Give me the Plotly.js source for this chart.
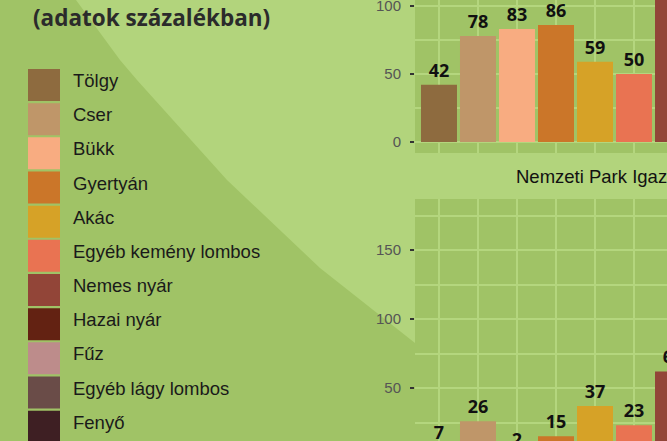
<!DOCTYPE html>
<html>
<head>
<meta charset="utf-8">
<script src="https://cdn.plot.ly/plotly-3.0.1.min.js"></script>
<style>
html,body{margin:0;padding:0;overflow:hidden;background:#a0c366;}
#chart{width:667px;height:441px;}
</style>
</head>
<body>
<div id="chart"></div>
<script>
// ---- data ----
var categories = ["Tölgy","Cser","Bükk","Gyertyán","Akác","Egyéb kemény lombos","Nemes nyár","Hazai nyár","Fűz","Egyéb lágy lombos","Fenyő"];
var topValues = [42, 78, 83, 86, 59, 50, 120, null, null, null, null];
var bottomValues = [7, 26, 2, 15, 37, 23, 62, null, null, null, null];
var yTickVals = [0, 50, 100, 150];
var titleText = "(adatok százalékban)";
var bottomTitle = "Nemzeti Park Igazgatóságok";

// ---- styles ----
var colors = ["#8e6b3f","#bf9669","#f8ac81","#cb7629","#d6a227","#e97352","#924538","#632212","#bd8c8b","#6a4c48","#3e1f23"];
var W = 667, H = 441;
var darkGreen = "#a0c366", lightGreen = "#b2d47c", gridGreen = "#b4d67e";
var sansFont = "Liberation Sans, Arial, sans-serif";
var boldFont = "Open Sans, Noto Sans, sans-serif";

function px(x){return x / W;}
function py(y){return 1 - y / H;}

var barTextFont = {family: boldFont, size: 18, color: "#111111", weight: "bold"};

var traces = [
  {type: "bar", x: categories, y: topValues, xaxis: "x", yaxis: "y",
   marker: {color: colors, line: {width: 0}}, texttemplate: "%{y}", textposition: "outside",
   textfont: barTextFont, hoverinfo: "skip", showlegend: false},
  {type: "bar", x: categories, y: bottomValues, xaxis: "x2", yaxis: "y2",
   marker: {color: colors, line: {width: 0}}, texttemplate: "%{y}", textposition: "outside",
   textfont: barTextFont, hoverinfo: "skip", showlegend: false}
];

var xRange = [-0.615, 5.846];
function xAxis(anchor){
  return {domain: [px(415), 1], anchor: anchor, type: "category", range: xRange,
          showgrid: true, gridcolor: gridGreen, gridwidth: 2, showticklabels: false,
          ticks: "", showline: false, zeroline: false, fixedrange: true};
}
function yAxis(domain, range){
  return {domain: domain, range: range, tickvals: yTickVals, showgrid: true, gridcolor: gridGreen, gridwidth: 2,
          minor: {dtick: 25, tick0: 0, showgrid: true, gridcolor: gridGreen, gridwidth: 2, ticks: ""},
          ticks: "outside", ticklen: 4, tickwidth: 2, tickcolor: "#333333",
          tickfont: {family: sansFont, size: 15, color: "#555555"}, ticklabelstandoff: 6,
          ticklabeloverflow: "allow",
          showline: false, zeroline: false, fixedrange: true};
}

// light region of the background (kept outside the two plot areas)
var region = [[76,0],[415,0],[415,153],[667,153],[667,199],[415,199],[415,343],[320,268],[227,180],[137,80],[120,60]];
var path = region.map(function(p, i){ return (i ? "L" : "M") + px(p[0]).toFixed(5) + "," + py(p[1]).toFixed(5); }).join(" ") + " Z";

var shapes = [{type: "path", xref: "paper", yref: "paper", path: path, fillcolor: lightGreen, line: {width: 0}, layer: "below"}];
var annotations = [
  {text: titleText, xref: "paper", yref: "paper", x: px(31), y: py(17.5), xanchor: "left", yanchor: "middle",
   showarrow: false, font: {family: boldFont, size: 22.5, color: "#2b2b2b", weight: "bold"}},
  {text: bottomTitle, xref: "x2", yref: "paper", x: 5, y: py(176.5), xanchor: "center", yanchor: "middle",
   showarrow: false, font: {family: sansFont, size: 18.5, color: "#111111"}}
];

// legend built from the category / colour arrays
var legTop = 69, legPitch = 34.17, legSize = 32;
categories.forEach(function(c, i){
  var top = legTop + i * legPitch;
  shapes.push({type: "rect", xref: "paper", yref: "paper", x0: px(28), x1: px(28 + legSize),
               y0: py(top), y1: py(top + legSize), fillcolor: colors[i], line: {width: 0}, layer: "above"});
  annotations.push({text: c, xref: "paper", yref: "paper", x: px(71), y: py(top + 11.5), xanchor: "left", yanchor: "middle",
                    showarrow: false, font: {family: sansFont, size: 18.5, color: "#1a1a1a"}});
});

var layout = {
  width: W, height: H, margin: {l: 0, r: 0, t: 0, b: 0},
  paper_bgcolor: darkGreen, plot_bgcolor: darkGreen,
  bargap: 0.077, showlegend: false,
  xaxis: xAxis("y"), yaxis: yAxis([py(153), 1], [-8.1, 104.4]),
  xaxis2: xAxis("y2"), yaxis2: yAxis([0, py(199)], [11.6, 187]),
  shapes: shapes, annotations: annotations
};

Plotly.newPlot("chart", traces, layout, {displayModeBar: false, staticPlot: true});
</script>
</body>
</html>
